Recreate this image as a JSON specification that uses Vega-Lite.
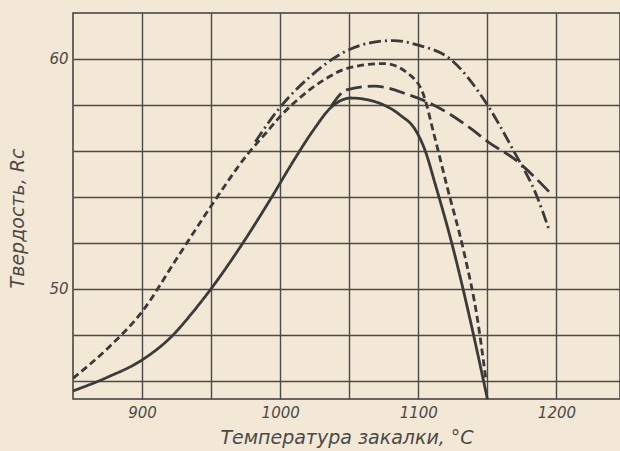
{
  "$schema": "https://vega.github.io/schema/vega-lite/v6.json",
  "autosize": "none",
  "padding": {"left": 73, "top": 13, "right": 0, "bottom": 52},
  "width": 547,
  "height": 386,
  "background": "#f3e7d5",
  "config": {
    "view": {"stroke": "#3d3d3d", "strokeWidth": 1.5},
    "axis": {
      "gridColor": "#4a4a4a", "gridWidth": 1.4, "gridOpacity": 1,
      "domain": false, "ticks": false,
      "labelFont": "DejaVu Sans", "labelFontStyle": "italic", "labelFontSize": 15, "labelColor": "#4a4a4a",
      "titleFont": "DejaVu Sans", "titleFontStyle": "italic", "titleFontWeight": "normal", "titleFontSize": 19, "titleColor": "#4a4a4a"
    }
  },
  "data": {"values": [
    {"s": "A", "t": 850, "h": 46.1},
    {"s": "A", "t": 875, "h": 47.4},
    {"s": "A", "t": 900, "h": 49.0},
    {"s": "A", "t": 925, "h": 51.3},
    {"s": "A", "t": 950, "h": 53.6},
    {"s": "A", "t": 977, "h": 55.9},
    {"s": "A", "t": 990, "h": 56.8},
    {"s": "A", "t": 1000, "h": 57.5},
    {"s": "A", "t": 1014, "h": 58.3},
    {"s": "A", "t": 1032, "h": 59.1},
    {"s": "A", "t": 1049, "h": 59.6},
    {"s": "A", "t": 1075, "h": 59.8},
    {"s": "A", "t": 1094, "h": 59.3},
    {"s": "A", "t": 1104, "h": 58.4},
    {"s": "A", "t": 1111, "h": 56.8},
    {"s": "A", "t": 1121, "h": 54.4},
    {"s": "A", "t": 1133, "h": 51.6},
    {"s": "A", "t": 1143, "h": 48.6},
    {"s": "A", "t": 1149, "h": 46.0},
    {"s": "B", "t": 982, "h": 56.4},
    {"s": "B", "t": 1000, "h": 57.9},
    {"s": "B", "t": 1022, "h": 59.25},
    {"s": "B", "t": 1048, "h": 60.35},
    {"s": "B", "t": 1065, "h": 60.7},
    {"s": "B", "t": 1082, "h": 60.8},
    {"s": "B", "t": 1100, "h": 60.6},
    {"s": "B", "t": 1123, "h": 60.0},
    {"s": "B", "t": 1150, "h": 58.0},
    {"s": "B", "t": 1169, "h": 56.0},
    {"s": "B", "t": 1186, "h": 54.0},
    {"s": "B", "t": 1195, "h": 52.5},
    {"s": "C", "t": 850, "h": 45.55},
    {"s": "C", "t": 875, "h": 46.15},
    {"s": "C", "t": 900, "h": 46.9},
    {"s": "C", "t": 921, "h": 47.9},
    {"s": "C", "t": 937, "h": 49.0},
    {"s": "C", "t": 950, "h": 50.0},
    {"s": "C", "t": 972, "h": 51.9},
    {"s": "C", "t": 993, "h": 53.9},
    {"s": "C", "t": 1010, "h": 55.6},
    {"s": "C", "t": 1024, "h": 56.9},
    {"s": "C", "t": 1037, "h": 57.9},
    {"s": "C", "t": 1051, "h": 58.3},
    {"s": "C", "t": 1068, "h": 58.15},
    {"s": "C", "t": 1087, "h": 57.55},
    {"s": "C", "t": 1098, "h": 56.9},
    {"s": "C", "t": 1105, "h": 56.0},
    {"s": "C", "t": 1112, "h": 54.6},
    {"s": "C", "t": 1125, "h": 51.8},
    {"s": "C", "t": 1139, "h": 48.25},
    {"s": "C", "t": 1150, "h": 45.2},
    {"s": "D", "t": 1037, "h": 57.95},
    {"s": "D", "t": 1048, "h": 58.65},
    {"s": "D", "t": 1068, "h": 58.82},
    {"s": "D", "t": 1092, "h": 58.46},
    {"s": "D", "t": 1111, "h": 58.0},
    {"s": "D", "t": 1136, "h": 57.06},
    {"s": "D", "t": 1152, "h": 56.33},
    {"s": "D", "t": 1169, "h": 55.67},
    {"s": "D", "t": 1195, "h": 54.2}
  ]},
  "mark": {"type": "line", "interpolate": "monotone", "color": "#3a3a3a", "strokeWidth": 2.8, "clip": true},
  "encoding": {
    "x": {
      "field": "t", "type": "quantitative",
      "scale": {"domain": [850, 1246], "nice": false, "zero": false},
      "axis": {
        "values": [900, 950, 1000, 1050, 1100, 1150, 1200],
        "labelExpr": "datum.value % 100 == 0 ? datum.label : ''",
        "format": "d", "labelPadding": 6, "titlePadding": 8,
        "title": "Температура закалки, °C"
      }
    },
    "y": {
      "field": "h", "type": "quantitative",
      "scale": {"domain": [45.2, 62], "nice": false, "zero": false},
      "axis": {
        "values": [46, 48, 50, 52, 54, 56, 58, 60],
        "labelExpr": "datum.value % 10 == 0 ? datum.label : ''",
        "labelPadding": 5, "titlePadding": 21, "titleY": 205,
        "title": "Твердость, Rc"
      }
    },
    "strokeDash": {
      "field": "s", "type": "nominal",
      "scale": {"domain": ["A", "B", "C", "D"], "range": [[7, 4], [12, 4, 2, 4], [1, 0], [16, 6]]},
      "legend": null
    }
  }
}
